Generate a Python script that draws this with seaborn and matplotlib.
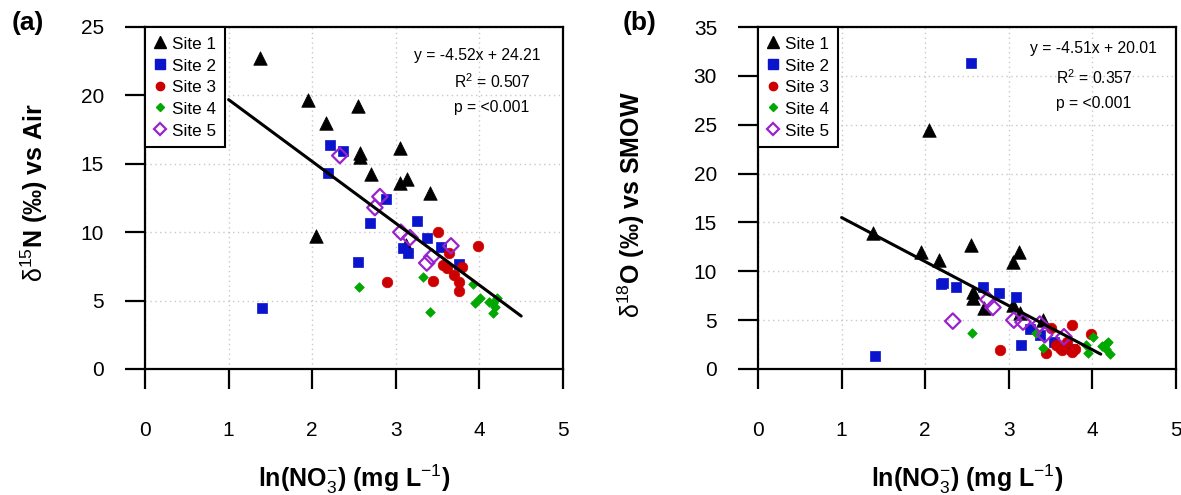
import numpy as np
import pandas as pd
import matplotlib
matplotlib.use("Agg")
import matplotlib.pyplot as plt
from matplotlib.lines import Line2D
import seaborn as sns

# ---------------- data ----------------
sites = ["Site 1", "Site 2", "Site 3", "Site 4", "Site 5"]

# ln(NO3-) per site (shared by both panels)
x_site1 = [1.38, 1.95, 2.05, 2.16, 2.55, 2.57, 2.57, 2.70, 3.05, 3.05, 3.12, 3.13, 3.41]
x_site2 = [1.40, 2.19, 2.21, 2.37, 2.55, 2.69, 2.88, 3.09, 3.15, 3.25, 3.37, 3.54, 3.76]
x_site3 = [2.90, 3.44, 3.50, 3.57, 3.61, 3.64, 3.70, 3.76, 3.76, 3.79, 3.98]
x_site4 = [2.56, 3.33, 3.41, 3.92, 3.95, 4.01, 4.12, 4.16, 4.16, 4.19, 4.21]
x_site5 = [2.33, 2.75, 2.81, 3.06, 3.17, 3.37, 3.43, 3.66]

# d15N (panel a)
n15_site1 = [22.7, 19.7, 9.7, 18.0, 19.2, 15.8, 15.5, 14.25, 16.15, 13.6, 9.1, 13.9, 12.9]
n15_site2 = [4.46, 14.3, 16.4, 15.9, 7.8, 10.7, 12.4, 8.85, 8.45, 10.8, 9.6, 8.9, 7.7]
n15_site3 = [6.35, 6.4, 10.0, 7.6, 7.4, 8.5, 6.85, 6.35, 5.7, 7.45, 9.0]
n15_site4 = [6.0, 6.7, 4.2, 6.2, 4.8, 5.2, 4.9, 4.1, 4.8, 4.55, 5.2]
n15_site5 = [15.6, 11.8, 12.6, 10.0, 9.6, 7.75, 8.2, 9.0]

# d18O (panel b)
o18_site1 = [13.9, 12.0, 24.5, 11.2, 12.7, 7.9, 7.3, 6.2, 11.0, 6.6, 12.0, 5.7, 5.0]
o18_site2 = [1.3, 8.7, 8.8, 8.4, 31.3, 8.4, 7.8, 7.4, 2.5, 4.1, 3.5, 2.8, 2.0]
o18_site3 = [1.9, 1.6, 4.2, 2.5, 2.2, 1.9, 2.8, 1.7, 4.5, 2.0, 3.6]
o18_site4 = [3.7, 3.7, 2.1, 2.45, 1.6, 3.3, 2.4, 2.0, 2.6, 2.8, 1.5]
o18_site5 = [4.9, 7.1, 6.3, 5.0, 4.8, 4.6, 3.5, 3.3]

# regression fits
slope_a, intercept_a, r2_a, p_a = -4.52, 24.21, 0.507, "<0.001"
slope_b, intercept_b, r2_b, p_b = -4.51, 20.01, 0.357, "<0.001"
fit_range_a = [1.0, 4.5]
fit_range_b = [1.0, 4.1]

x_ticks = [0, 1, 2, 3, 4, 5]
y_ticks_a = [0, 5, 10, 15, 20, 25]
y_ticks_b = [0, 5, 10, 15, 20, 25, 30, 35]

# ---------------- style ----------------
sns.set_style("white")
plt.rcParams["font.family"] = ["Liberation Sans", "DejaVu Sans"]
plt.rcParams["mathtext.fontset"] = "custom"
plt.rcParams["mathtext.rm"] = "Liberation Sans"
plt.rcParams["mathtext.it"] = "Liberation Sans:italic"
plt.rcParams["mathtext.bf"] = "Liberation Sans:bold"
plt.rcParams["text.color"] = "black"
plt.rcParams["axes.labelcolor"] = "black"
plt.rcParams["xtick.color"] = "black"
plt.rcParams["ytick.color"] = "black"

colors = {"Site 1": "#000000", "Site 2": "#0a14cc", "Site 3": "#cc0000",
          "Site 4": "#00a800", "Site 5": "#9a22cc"}
markers = {"Site 1": "^", "Site 2": "s", "Site 3": "o", "Site 4": "D", "Site 5": "D"}
sizes = {"Site 1": 95, "Site 2": 62, "Site 3": 58, "Site 4": 24, "Site 5": 62}

xs = [x_site1, x_site2, x_site3, x_site4, x_site5]
ys_a = [n15_site1, n15_site2, n15_site3, n15_site4, n15_site5]
ys_b = [o18_site1, o18_site2, o18_site3, o18_site4, o18_site5]

W, H = 1181, 495
fig = plt.figure(figsize=(W / 100, H / 100), dpi=100)
ax_a = fig.add_axes([145 / W, 1 - 369 / H, 418 / W, 342 / H])
ax_b = fig.add_axes([758 / W, 1 - 369 / H, 418 / W, 342 / H])


def draw(ax, ys, slope, intercept, fit_range, yticks):
    for site, xv, yv in zip(sites, xs, ys):
        df = pd.DataFrame({"x": xv, "y": yv})
        if site == "Site 5":
            sns.scatterplot(data=df, x="x", y="y", ax=ax, marker=markers[site],
                            s=sizes[site], color=colors[site], facecolor="none",
                            edgecolor=colors[site], linewidth=1.6, zorder=4)
        else:
            sns.scatterplot(data=df, x="x", y="y", ax=ax, marker=markers[site],
                            s=sizes[site], color=colors[site],
                            edgecolor=colors[site], linewidth=0.5, zorder=3)
    fx = np.array(fit_range)
    fit = pd.DataFrame({"x": fx, "y": intercept + slope * fx})
    sns.lineplot(data=fit, x="x", y="y", ax=ax, color="black", linewidth=2.2, zorder=5)

    ax.set_xlim(0, 5)
    ax.set_ylim(yticks[0], yticks[-1])
    ax.set_xticks(x_ticks)
    ax.set_yticks(yticks)
    ax.grid(True, linestyle=(0, (1, 2.5)), color="#c8c8c8", linewidth=1.0)
    ax.set_axisbelow(True)
    for sp in ax.spines.values():
        sp.set_visible(True)
        sp.set_color("black")
        sp.set_linewidth(1.6)
    ax.tick_params(axis="both", direction="out", length=14.5, width=1.6,
                   color="black", labelsize=15, labelcolor="black",
                   bottom=True, left=True, top=False, right=False)
    ax.tick_params(axis="x", pad=23)
    ax.tick_params(axis="y", pad=15)
    ax.set_xlabel(r"ln(NO$_3^{-}$) (mg L$^{-1}$)", fontsize=18, fontweight="bold",
                  color="black")
    ax.xaxis.label.set_va("baseline")
    ax.xaxis.set_label_coords(0.5, -0.345)

    handles = []
    for site in sites:
        if site == "Site 5":
            h = Line2D([], [], marker="D", linestyle="none", markersize=6.5,
                       markerfacecolor="none", markeredgecolor=colors[site],
                       markeredgewidth=1.6)
        else:
            ms = {"Site 1": 8.5, "Site 2": 6.5, "Site 3": 6, "Site 4": 4.2}[site]
            h = Line2D([], [], marker=markers[site], linestyle="none", markersize=ms,
                       color=colors[site])
        handles.append(h)
    leg = ax.legend(handles, sites, loc="upper left", bbox_to_anchor=(0, 1),
                    borderaxespad=0, frameon=True, fancybox=False, framealpha=1,
                    edgecolor="black", fontsize=12.3, handlelength=0.8,
                    handleheight=1.0, handletextpad=0.3, borderpad=0.5,
                    labelspacing=0.3)
    for t in leg.get_texts():
        t.set_color("black")
    leg.get_frame().set_linewidth(1.5)


draw(ax_a, ys_a, slope_a, intercept_a, fit_range_a, y_ticks_a)
draw(ax_b, ys_b, slope_b, intercept_b, fit_range_b, y_ticks_b)

ax_a.set_ylabel(r"$\mathrm{\delta}^{15}$N (‰) vs Air", fontsize=18, fontweight="bold",
                color="black")
ax_a.yaxis.label.set_va("baseline")
ax_a.yaxis.set_label_coords(-0.244, 0.515)
ax_b.set_ylabel(r"$\mathrm{\delta}^{18}$O (‰) vs SMOW", fontsize=18, fontweight="bold",
                color="black")
ax_b.yaxis.label.set_va("baseline")
ax_b.yaxis.set_label_coords(-0.282, 0.481)

# annotations
ax_a.text(3.98, 22.95, f"y = {slope_a:.2f}x + {intercept_a:.2f}", ha="center", va="center", fontsize=11.3)
ax_a.text(4.16, 21.0, f"R$^2$ = {r2_a:.3f}", ha="center", va="center", fontsize=11.3)
ax_a.text(4.15, 19.1, f"p = {p_a}", ha="center", va="center", fontsize=11.3)
ax_b.text(4.01, 32.85, f"y = {slope_b:.2f}x + {intercept_b:.2f}", ha="center", va="center", fontsize=11.3)
ax_b.text(4.02, 29.8, f"R$^2$ = {r2_b:.3f}", ha="center", va="center", fontsize=11.3)
ax_b.text(4.02, 27.2, f"p = {p_b}", ha="center", va="center", fontsize=11.3)

fig.text(12 / W, 1 - 11 / H, "(a)", fontsize=19, fontweight="bold", ha="left", va="top")
fig.text(623 / W, 1 - 11 / H, "(b)", fontsize=19, fontweight="bold", ha="left", va="top")

fig.savefig("out.png", dpi=100)
